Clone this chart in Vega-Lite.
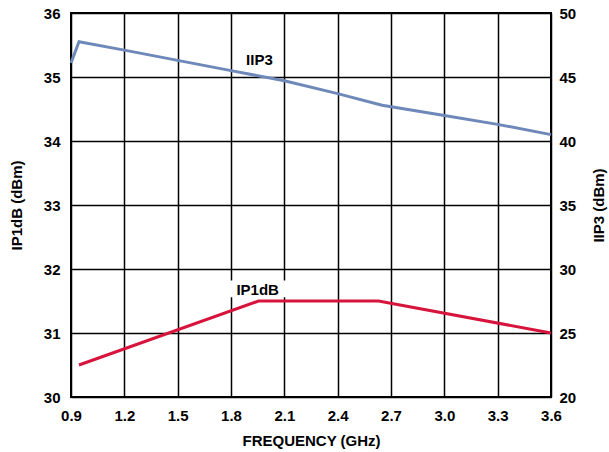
{
  "$schema": "https://vega.github.io/schema/vega-lite/v6.json",
  "width": 480,
  "height": 384,
  "autosize": "none",
  "padding": {"left": 71, "top": 13, "right": 58, "bottom": 55},
  "background": "white",
  "config": {
    "view": {"stroke": "black", "strokeWidth": 2},
    "font": "Liberation Sans",
    "axis": {
      "labelFont": "Liberation Sans", "labelFontWeight": "bold", "labelFontSize": 15, "labelColor": "black",
      "titleFont": "Liberation Sans", "titleFontWeight": "bold", "titleFontSize": 15, "titleColor": "black",
      "domain": false, "ticks": false, "gridColor": "black", "gridOpacity": 1, "gridWidth": 1.5,
      "labelFlush": false, "labelOverlap": false, "labelBound": false
    }
  },
  "datasets": {
    "ip1db": [
      {"freq": 0.945, "value": 30.5},
      {"freq": 1.955, "value": 31.5},
      {"freq": 2.63, "value": 31.5},
      {"freq": 3.6, "value": 31.0}
    ],
    "iip3": [
      {"freq": 0.9, "value": 46.1},
      {"freq": 0.945, "value": 47.75},
      {"freq": 1.2, "value": 47.1},
      {"freq": 1.5, "value": 46.3},
      {"freq": 1.8, "value": 45.5},
      {"freq": 2.1, "value": 44.7},
      {"freq": 2.4, "value": 43.7},
      {"freq": 2.65, "value": 42.8},
      {"freq": 3.0, "value": 42.0},
      {"freq": 3.3, "value": 41.3},
      {"freq": 3.6, "value": 40.5}
    ]
  },
  "layer": [
    {
      "layer": [
        {
          "data": {"values": [{"x1": 1.77, "x2": 2.14, "y1": 31.56, "y2": 31.82}]},
          "mark": {"type": "rect", "fill": "white"},
          "encoding": {
            "x": {"field": "x1", "type": "quantitative"},
            "x2": {"field": "x2"},
            "y": {"field": "y1", "type": "quantitative"},
            "y2": {"field": "y2"}
          }
        },
        {
          "data": {"name": "ip1db"},
          "mark": {"type": "line", "color": "#d7143c", "strokeWidth": 3},
          "encoding": {
            "x": {
              "field": "freq", "type": "quantitative",
              "scale": {"domain": [0.9, 3.6], "nice": false, "zero": false},
              "axis": {
                "values": [0.9, 1.2, 1.5, 1.8, 2.1, 2.4, 2.7, 3.0, 3.3, 3.6],
                "format": ".1f", "title": "FREQUENCY (GHz)", "labelPadding": 11, "titlePadding": 10
              }
            },
            "y": {
              "field": "value", "type": "quantitative",
              "scale": {"domain": [30, 36], "nice": false, "zero": false},
              "axis": {
                "orient": "left", "tickCount": 6, "title": "IP1dB (dBm)",
                "labelPadding": 11, "titlePadding": 19
              }
            }
          }
        },
        {
          "data": {"values": [{"label": "IP1dB", "freq": 1.95, "value": 31.67}]},
          "mark": {"type": "text", "font": "Liberation Sans", "fontWeight": "bold", "fontSize": 15, "color": "black", "baseline": "middle", "align": "center"},
          "encoding": {
            "x": {"field": "freq", "type": "quantitative"},
            "y": {"field": "value", "type": "quantitative"},
            "text": {"field": "label"}
          }
        }
      ]
    },
    {
      "layer": [
        {
          "data": {"name": "iip3"},
          "mark": {"type": "line", "color": "#6d88b9", "strokeWidth": 3},
          "encoding": {
            "x": {"field": "freq", "type": "quantitative"},
            "y": {
              "field": "value", "type": "quantitative",
              "scale": {"domain": [20, 50], "nice": false, "zero": false},
              "axis": {
                "orient": "right", "tickCount": 6, "grid": false, "title": "IIP3 (dBm)",
                "titleAngle": 270, "titleX": 47, "titleY": 192, "titleAlign": "center", "titleBaseline": "middle",
                "labelPadding": 8
              }
            }
          }
        },
        {
          "data": {"values": [{"label": "IIP3", "freq": 1.96, "value": 46.3}]},
          "mark": {"type": "text", "font": "Liberation Sans", "fontWeight": "bold", "fontSize": 15, "color": "black", "baseline": "middle", "align": "center"},
          "encoding": {
            "x": {"field": "freq", "type": "quantitative"},
            "y": {"field": "value", "type": "quantitative"},
            "text": {"field": "label"}
          }
        }
      ]
    }
  ],
  "resolve": {"scale": {"y": "independent"}}
}
